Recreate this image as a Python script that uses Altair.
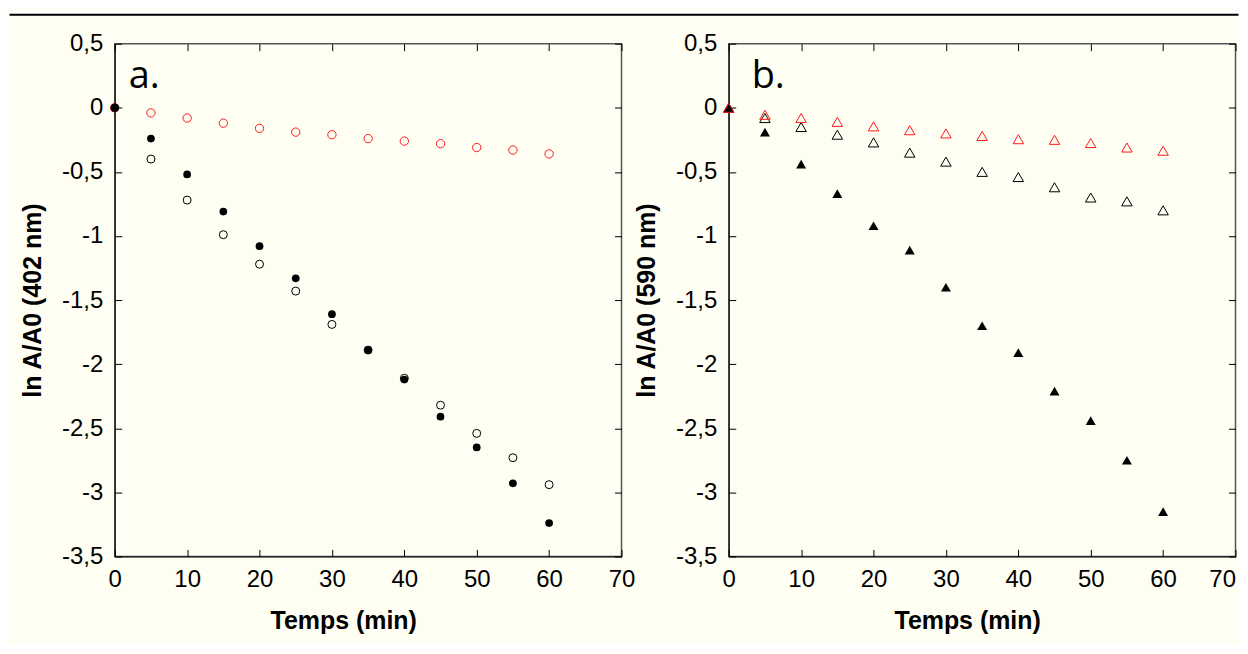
import altair as alt
import pandas as pd

# ---- data ----
temps = [0, 5, 10, 15, 20, 25, 30, 35, 40, 45, 50, 55, 60]

a_filled = [0, -0.24, -0.52, -0.81, -1.08, -1.33, -1.61, -1.89, -2.12, -2.41, -2.65, -2.93, -3.24]
a_open = [0, -0.40, -0.72, -0.99, -1.22, -1.43, -1.69, -1.89, -2.11, -2.32, -2.54, -2.73, -2.94]
a_red = [0, -0.04, -0.08, -0.12, -0.16, -0.19, -0.21, -0.24, -0.26, -0.28, -0.31, -0.33, -0.36]

b_filled = [0, -0.19, -0.44, -0.67, -0.92, -1.11, -1.40, -1.70, -1.91, -2.21, -2.44, -2.75, -3.15]
b_open = [0, -0.08, -0.15, -0.21, -0.27, -0.35, -0.42, -0.50, -0.54, -0.62, -0.70, -0.73, -0.80]
b_red = [0, -0.055, -0.08, -0.11, -0.145, -0.175, -0.20, -0.22, -0.245, -0.25, -0.275, -0.31, -0.335]

x_ticks = [0, 10, 20, 30, 40, 50, 60, 70]
y_ticks = [0.5, 0, -0.5, -1, -1.5, -2, -2.5, -3, -3.5]

CREAM = "#FEFEF3"
FONT = "Liberation Sans"
WA, WB, H = 508, 508, 514
SPACING = 107.5
OX, OY = 105.5, 34  # canvas position of the first panel's plot area
CANVAS_W, CANVAS_H = 1232, 634

xscale = alt.Scale(domain=[0, 70], nice=False, zero=False)
yscale = alt.Scale(domain=[-3.5, 0.5], nice=False, zero=False)
comma = "replace(toString(datum.value), '.', ',')"


def label_axes(ytitle, title_x, last_right=False):
    extra = {}
    if last_right:
        extra["labelAlign"] = {"condition": {"test": "datum.value == 70", "value": "right"},
                               "value": "center"}
    ax = alt.Axis(orient="bottom", values=x_ticks, format="d", labelFlush=False,
                  ticks=False, tickSize=0, domain=True, domainColor="black", domainWidth=1,
                  labelPadding=11, title="Temps (min)", titleX=title_x, titlePadding=17,
                  grid=False, **extra)
    ay = alt.Axis(orient="left", values=y_ticks, labelExpr=comma, ticks=False, tickSize=0,
                  domain=True, domainColor="black", domainWidth=1, labelPadding=12,
                  title=ytitle, titlePadding=16, grid=False)
    return ax, ay


def tick_axes(xorient, yorient):
    ax = alt.Axis(orient=xorient, values=x_ticks, labels=False, domain=False, ticks=True,
                  tickSize=7, tickColor="black", tickWidth=1, offset=-7, title=None, grid=False)
    ay = alt.Axis(orient=yorient, values=y_ticks, labels=False, domain=False, ticks=True,
                  tickSize=7, tickColor="black", tickWidth=1, offset=-7, title=None, grid=False)
    return ax, ay


def series_layer(vals, shape, filled, color, size, axes):
    df = pd.DataFrame({"t": temps, "v": vals})
    ax, ay = axes
    return alt.Chart(df).mark_point(shape=shape, filled=filled, color=color, size=size,
                                    strokeWidth=1, opacity=1).encode(
        x=alt.X("t:Q", scale=xscale, axis=ax),
        y=alt.Y("v:Q", scale=yscale, axis=ay),
    )


def letter_layer(letter, lx):
    return alt.Chart(pd.DataFrame({"lab": [letter]})).mark_text(
        font="Open Sans", fontSize=38, align="left", baseline="alphabetic", color="black"
    ).encode(x=alt.value(lx), y=alt.value(44.5), text="lab:N")


one = pd.DataFrame({"k": [0]})
deco_strip = alt.Chart(one).mark_rect(color="white").encode(
    x=alt.value(-OX), x2=alt.value(CANVAS_W - OX), y=alt.value(-OY), y2=alt.value(7 - OY))
deco_line = alt.Chart(one).mark_rect(color="black").encode(
    x=alt.value(-OX), x2=alt.value(CANVAS_W - OX), y=alt.value(4 - OY), y2=alt.value(6 - OY))
deco_corner = alt.Chart(one).mark_rect(color=CREAM).encode(
    x=alt.value(CANVAS_W - 4 - OX), x2=alt.value(CANVAS_W - OX),
    y=alt.value(CANVAS_H - 2 - OY), y2=alt.value(CANVAS_H - OY))

panel_a = alt.layer(
    deco_strip, deco_line, deco_corner,
    series_layer(a_red, "circle", False, "#ff1a1a", 70, tick_axes("top", "right")),
    series_layer(a_open, "circle", False, "black", 64, tick_axes("bottom", "left")),
    series_layer(a_filled, "circle", True, "black", 60, label_axes("ln A/A0 (402 nm)", 229)),
    letter_layer("a.", 14),
).resolve_axis(x="independent", y="independent").properties(width=WA, height=H)

panel_b = alt.layer(
    series_layer(b_filled, "triangle-up", True, "black", 100,
                 label_axes("ln A/A0 (590 nm)", 239, last_right=True)),
    series_layer(b_open, "triangle-up", False, "black", 110, tick_axes("bottom", "left")),
    series_layer(b_red, "triangle-up", False, "#ff1a1a", 110, tick_axes("top", "right")),
    letter_layer("b.", 23),
).resolve_axis(x="independent", y="independent").properties(width=WB, height=H)

chart = alt.hconcat(panel_a, panel_b, spacing=SPACING, bounds="flush").properties(
    padding={"left": 0, "top": 0, "right": 0, "bottom": 0},
    background=CREAM,
).configure_view(stroke="#555", strokeWidth=1.5).configure_axis(
    labelFont=FONT, labelFontSize=24, labelColor="black",
    titleFont=FONT, titleFontSize=25, titleFontWeight="bold", titleColor="black",
)

chart.save("out.html", embed_options={"renderer": "svg", "actions": False})
